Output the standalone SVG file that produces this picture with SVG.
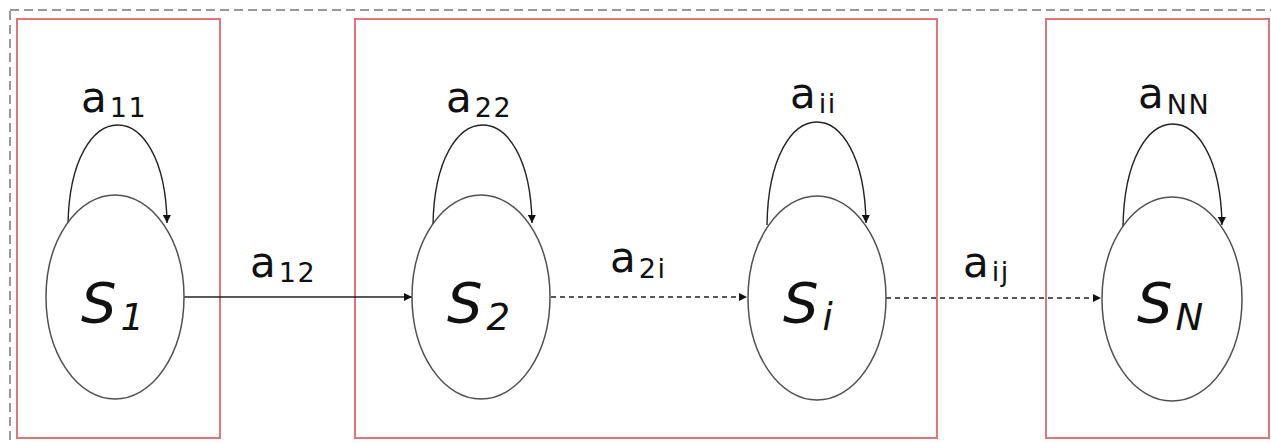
<svg xmlns="http://www.w3.org/2000/svg" width="1271" height="443" viewBox="0 0 1271 443">
<style>
.frame{fill:none;stroke:#999;stroke-width:2;stroke-dasharray:9 5}
.grp{fill:none;stroke:#e07575;stroke-width:2}
.st{fill:#fff;stroke:#505050;stroke-width:1.5}
.edge{fill:none;stroke:#222;stroke-width:1.4}
.dash{stroke-dasharray:5 4}
.lbl{font-family:"DejaVu Sans",Verdana,sans-serif;font-size:42px;fill:#111}
.sub{font-size:27px;letter-spacing:1.5px}
.sname{font-family:"DejaVu Sans",Verdana,sans-serif;font-style:italic;font-size:56px;fill:#111}
.ssub{font-size:37px}
</style>
<defs>
<marker id="arr" viewBox="0 0 10 10" refX="10" refY="5" markerWidth="10" markerHeight="8" markerUnits="userSpaceOnUse" orient="auto">
<path d="M0,0 L10,5 L0,10 z" fill="#111"/>
</marker>
</defs>
<rect class="frame" x="10" y="10" width="1275" height="445"/>
<g id="groups">
<rect class="grp" x="17" y="19" width="203" height="419"/>
<rect class="grp" x="355" y="19" width="582" height="419"/>
<rect class="grp" x="1046" y="19" width="223" height="419"/>
</g>
<g id="connectors">
<path class="edge" d="M68,225 C70,92 165,92 167,223" marker-end="url(#arr)"/>
<path class="edge" d="M433,225 C435,92 530,92 532,223" marker-end="url(#arr)"/>
<path class="edge" d="M767,225 C769,88 864,88 866,223" marker-end="url(#arr)"/>
<path class="edge" d="M1123,227 C1125,90 1220,90 1222,225" marker-end="url(#arr)"/>
<path class="edge" d="M184,297 L412,297" marker-end="url(#arr)"/>
<path class="edge dash" d="M551,297 L747,297" marker-end="url(#arr)"/>
<path class="edge dash" d="M886,298 L1101,298" marker-end="url(#arr)"/>
<text class="lbl" x="81" y="112">a<tspan class="sub" dx="3" dy="5">11</tspan></text>
<text class="lbl" x="446" y="112">a<tspan class="sub" dx="3" dy="5">22</tspan></text>
<text class="lbl" x="790" y="108">a<tspan class="sub" dx="3" dy="5">ii</tspan></text>
<text class="lbl" x="1138" y="108">a<tspan class="sub" dx="3" dy="6">NN</tspan></text>
<text class="lbl" x="250" y="277">a<tspan class="sub" dx="3" dy="5">12</tspan></text>
<text class="lbl" x="610" y="272">a<tspan class="sub" dx="3" dy="6">2i</tspan></text>
<text class="lbl" x="963" y="277">a<tspan class="sub" dx="3" dy="4">ij</tspan></text>
</g>
<g id="S1">
<ellipse class="st" cx="115" cy="297" rx="69" ry="102"/>
<text class="sname" x="81" y="322">S<tspan class="ssub" dx="4" dy="8">1</tspan></text>
</g>
<g id="S2">
<ellipse class="st" cx="481" cy="297" rx="69" ry="102"/>
<text class="sname" x="447" y="322">S<tspan class="ssub" dx="4" dy="8">2</tspan></text>
</g>
<g id="Si">
<ellipse class="st" cx="817" cy="298" rx="69" ry="102"/>
<text class="sname" x="783" y="322">S<tspan class="ssub" dx="4" dy="8">i</tspan></text>
</g>
<g id="SN">
<ellipse class="st" cx="1172" cy="299" rx="70" ry="102"/>
<text class="sname" x="1137" y="322">S<tspan class="ssub" dx="3" dy="8">N</tspan></text>
</g>
</svg>
